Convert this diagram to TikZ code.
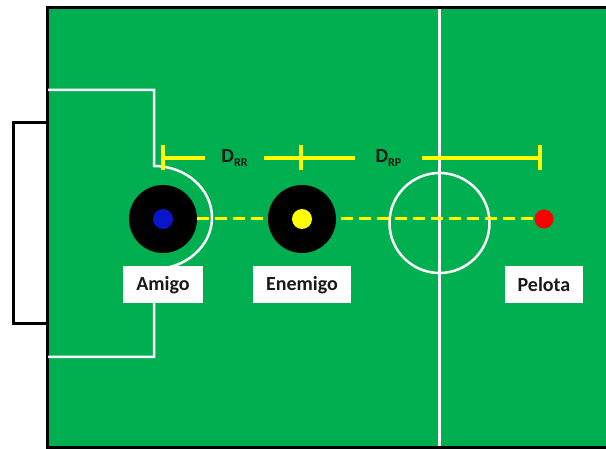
\documentclass[tikz,border=0pt]{standalone}
\usepackage{fontspec}
\setmainfont{Carlito}
\usetikzlibrary{positioning}
\definecolor{fieldgreen}{RGB}{0,176,80}
\definecolor{dimyellow}{RGB}{255,255,0}
\definecolor{robotblue}{RGB}{10,20,200}
\definecolor{ballred}{RGB}{250,0,0}
\definecolor{textdark}{RGB}{25,25,25}

\tikzset{
  border/.style={line width=3pt, black},
  fieldline/.style={line width=2.5pt, white},
  robot/.style={circle, fill=black, minimum size=68pt, inner sep=0pt},
  dot/.style={circle, minimum size=20pt, inner sep=0pt},
  namebox/.style={fill=white, minimum height=37pt, inner xsep=13pt, text=textdark,
    font=\fontsize{20}{24}\selectfont\bfseries},
  dimline/.style={line width=4pt, dimyellow},
  dimlabel/.style={minimum height=20pt, inner sep=0pt, text=textdark},
  pathline/.style={line width=3pt, dimyellow, dash pattern=on 12pt off 6pt}
}

\newcommand{\distlabel}[1]{{\fontsize{20}{24}\selectfont\bfseries D}{\fontsize{12}{14}\selectfont\bfseries\raisebox{-4pt}{#1}}}

\begin{document}
\begin{tikzpicture}[x=1pt,y=-1pt]
    \useasboundingbox (0,0) rectangle (606,449);
    \clip (0,0) rectangle (606,449);

    % Field
    \fill[fieldgreen] (47,7.5) rectangle (612,447.5);
    \draw[border] (612,7.5) -- (47,7.5) -- (47,447.5) -- (612,447.5);

    % Goal
    \fill[white] (13,123) rectangle (46,324);
    \draw[border] (46,123) -- (13,123) -- (13,324) -- (46,324);

    % Lines
    \draw[fieldline] (48,90) -- (154,90) -- (154,166)
        arc[start angle=-90, end angle=90, x radius=58, y radius=51.5] -- (154,357) -- (48,357);
    \draw[fieldline] (439.5,9) -- (439.5,446);
    \draw[fieldline] (439.5,223) circle[radius=50pt];

    % Players and ball
    \node[robot] (amigo) at (163,219) {};
    \node[dot, fill=robotblue] (amigodot) at (amigo) {};
    \node[dot, minimum size=19pt, fill=ballred] (ball) at (544,219) {};

    \draw[pathline] (amigo) -- (ball);

    \node[robot] (enemigo) at (302,219) {};
    \node[dot, fill=dimyellow] (enemigodot) at (enemigo) {};

    % Names
    \node[namebox, below=13pt of amigo] (amigolbl) {Amigo};
    \node[namebox] (enemigolbl) at (enemigo |- amigolbl) {Enemigo};
    \node[namebox] (pelotalbl) at (ball |- amigolbl) {Pelota};

    % Distances
    \coordinate (t1) at (163,158);
    \coordinate (t2) at (301,158);
    \coordinate (t3) at (540,158);
    \node[dimlabel, minimum width=59pt] (drr) at (234.5,158) {\distlabel{RR}};
    \node[dimlabel, minimum width=67pt] (drp) at (388.5,158) {\distlabel{RP}};
    \draw[dimline] (t1) -- (drr) -- (drp) -- (t3);
    \foreach \t in {t1,t2,t3}
        \draw[dimline] (\t) ++(0,-12.5) -- ++(0,25);
\end{tikzpicture}
\end{document}
